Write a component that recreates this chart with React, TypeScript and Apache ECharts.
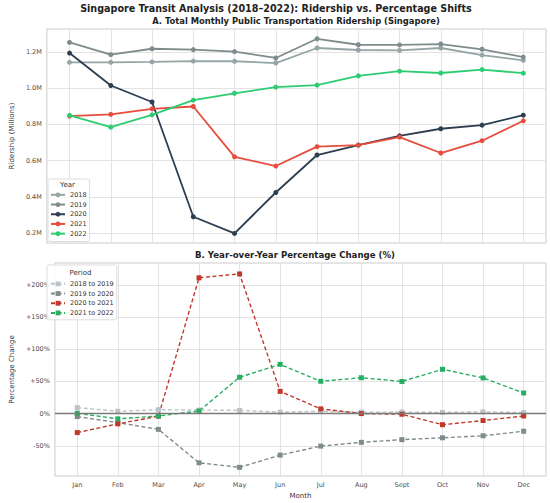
import React, { useEffect, useRef } from "react";
import * as echarts from "echarts";

const months = ["Jan", "Feb", "Mar", "Apr", "May", "Jun", "Jul", "Aug", "Sept", "Oct", "Nov", "Dec"];
const monthIdx = [0, 1, 2, 3, 4, 5, 6, 7, 8, 9, 10, 11];

const years = ["2018", "2019", "2020", "2021", "2022"];
const r2018 = [1.143, 1.143, 1.145, 1.15, 1.149, 1.139, 1.222, 1.211, 1.209, 1.222, 1.183, 1.154];
const r2019 = [1.253, 1.185, 1.218, 1.213, 1.202, 1.167, 1.273, 1.24, 1.239, 1.244, 1.215, 1.172];
const r2020 = [1.194, 1.015, 0.924, 0.29, 0.198, 0.424, 0.631, 0.686, 0.737, 0.776, 0.796, 0.851];
const r2021 = [0.846, 0.855, 0.886, 0.899, 0.621, 0.57, 0.677, 0.686, 0.73, 0.642, 0.71, 0.82];
const r2022 = [0.85, 0.785, 0.853, 0.934, 0.972, 1.006, 1.017, 1.068, 1.094, 1.084, 1.103, 1.083];
const yearColors = ["#95a5a6", "#7f8c8d", "#2c3e50", "#e74c3c", "#2ecc71"];

const periods = ["2018 to 2019", "2019 to 2020", "2020 to 2021", "2021 to 2022"];
const p1819 = [9.3, 3.6, 6.0, 5.5, 5.0, 2.2, 3.6, 2.2, 2.4, 1.8, 2.7, 1.6];
const p1920 = [-4.7, -14.0, -24.5, -76.5, -83.5, -64.5, -50.5, -44.7, -40.5, -37.6, -34.5, -27.4];
const p2021 = [-29.5, -16.0, -4.0, 211, 217, 34.5, 7.3, 0.0, -1.0, -17.3, -10.8, -3.7];
const p2122 = [0.5, -8.2, -3.7, 3.9, 56.5, 76.5, 50.2, 55.7, 49.9, 68.8, 55.4, 32.0];
const periodColors = ["#bdc3c7", "#7f8c8d", "#c0392b", "#27ae60"];

const ridershipTicks = [0.2, 0.4, 0.6, 0.8, 1.0, 1.2];
const pctTicks = [-50, 0, 50, 100, 150, 200];

const FONT = "DejaVu Sans";
const TICK_FONT = 6.5;
const LEGEND_FONT = 6.5;

function toPts(arr: number[]) {
  return arr.map((v, i) => [i, v]);
}

export default function App() {
  const ref = useRef<HTMLDivElement>(null);
  useEffect(() => {
    if (!ref.current) return;
    const chart = echarts.init(ref.current, undefined, { renderer: "svg" });
    const ridership = [r2018, r2019, r2020, r2021, r2022];
    const pcts = [p1819, p1920, p2021, p2122];

    const gridLine = { show: true, lineStyle: { color: "#e3e3e3", width: 1 } };
    const tickLabel = { color: "#4d4d4d", fontSize: TICK_FONT, fontFamily: FONT };
    const nameStyle = { color: "#333333", fontSize: 7, fontFamily: FONT };

    const xBase = (gridIndex: number, showLabels: boolean) => ({
      type: "value" as const,
      gridIndex,
      min: -0.55,
      max: 11.55,
      axisLine: { show: false },
      axisTick: { show: false, customValues: monthIdx },
      axisLabel: {
        show: showLabels,
        customValues: monthIdx,
        formatter: (v: number) => months[Math.round(v)] ?? "",
        ...tickLabel,
        margin: 5.5,
      },
      splitLine: gridLine,
    });

    const legendBase = {
      orient: "vertical",
      itemGap: 0,
      itemWidth: 14,
      itemHeight: 6,
      backgroundColor: "rgba(255,255,255,0.85)",
      borderColor: "#dddddd",
      borderWidth: 1,
      borderRadius: 2,
      z: 5,
    };

    const option: any = {
      animation: false,
      backgroundColor: "#ffffff",
      textStyle: { fontFamily: FONT },
      grid: [
        { left: 44, top: 29, right: 4, height: 214, show: true, borderColor: "#cccccc", borderWidth: 1, backgroundColor: "transparent" },
        { left: 44, top: 263, right: 4, height: 213, show: true, borderColor: "#cccccc", borderWidth: 1, backgroundColor: "transparent" },
      ],
      xAxis: [
        xBase(0, false),
        {
          ...xBase(1, true),
          name: "Month",
          nameLocation: "middle",
          nameGap: 16,
          nameTextStyle: nameStyle,
        },
      ],
      yAxis: [
        {
          type: "value",
          gridIndex: 0,
          min: 0.145,
          max: 1.327,
          name: "Ridership (Millions)",
          nameLocation: "middle",
          nameGap: 31,
          nameTextStyle: nameStyle,
          axisLine: { show: false },
          axisTick: { show: false, customValues: ridershipTicks },
          axisLabel: {
            customValues: ridershipTicks,
            formatter: (v: number) => v.toFixed(1) + "M",
            ...tickLabel,
            margin: 5,
          },
          splitLine: gridLine,
        },
        {
          type: "value",
          gridIndex: 1,
          min: -97,
          max: 234,
          name: "Percentage Change",
          nameLocation: "middle",
          nameGap: 31,
          nameTextStyle: nameStyle,
          axisLine: { show: false },
          axisTick: { show: false, customValues: pctTicks },
          axisLabel: {
            customValues: pctTicks,
            formatter: (v: number) => (v > 0 ? "+" + v + "%" : v + "%"),
            ...tickLabel,
            margin: 5,
          },
          splitLine: gridLine,
        },
      ],
      legend: [
        {
          ...legendBase,
          data: years,
          left: 48,
          top: 179,
          padding: [11, 3, 3, 2],
          textStyle: { color: "#333333", fontSize: LEGEND_FONT, fontFamily: FONT, lineHeight: 9.7 },
        },
        {
          ...legendBase,
          data: periods,
          left: 47,
          top: 265,
          padding: [14, 3, 2, 3],
          textStyle: { color: "#333333", fontSize: LEGEND_FONT, fontFamily: FONT, lineHeight: 9.7 },
        },
      ],
      graphic: [
        {
          type: "text",
          x: 276,
          y: 8,
          style: {
            text: "Singapore Transit Analysis (2018\u20132022): Ridership vs. Percentage Shifts",
            fontSize: 9.6,
            fontWeight: "bold",
            fill: "#222222",
            fontFamily: FONT,
            textAlign: "center",
            textVerticalAlign: "middle",
          },
        },
        {
          type: "text",
          x: 296,
          y: 21,
          style: {
            text: "A. Total Monthly Public Transportation Ridership (Singapore)",
            fontSize: 8.4,
            fontWeight: "bold",
            fill: "#222222",
            fontFamily: FONT,
            textAlign: "center",
            textVerticalAlign: "middle",
          },
        },
        {
          type: "text",
          x: 295,
          y: 255,
          style: {
            text: "B. Year-over-Year Percentage Change (%)",
            fontSize: 8.6,
            fontWeight: "bold",
            fill: "#222222",
            fontFamily: FONT,
            textAlign: "center",
            textVerticalAlign: "middle",
          },
        },
        {
          type: "text",
          z: 10,
          x: 67.5,
          y: 185,
          style: { text: "Year", fontSize: 7, fill: "#333333", fontFamily: FONT, textAlign: "center", textVerticalAlign: "middle" },
        },
        {
          type: "text",
          z: 10,
          x: 80.5,
          y: 273,
          style: { text: "Period", fontSize: 7, fill: "#333333", fontFamily: FONT, textAlign: "center", textVerticalAlign: "middle" },
        },
      ],
      series: [
        ...years.map((y, k) => ({
          name: y,
          type: "line",
          xAxisIndex: 0,
          yAxisIndex: 0,
          data: toPts(ridership[k]),
          symbol: "circle",
          symbolSize: 5,
          color: yearColors[k],
          lineStyle: { width: 1.8, color: yearColors[k] },
          itemStyle: { color: yearColors[k] },
          z: 2,
        })),
        ...periods.map((p, k) => ({
          name: p,
          type: "line",
          xAxisIndex: 1,
          yAxisIndex: 1,
          data: toPts(pcts[k]),
          symbol: "rect",
          symbolSize: 5,
          color: periodColors[k],
          lineStyle: { width: 1.4, color: periodColors[k], type: [4, 2.5] },
          itemStyle: { color: periodColors[k] },
          z: 2,
          markLine:
            k === 0
              ? {
                  silent: true,
                  symbol: "none",
                  label: { show: false },
                  lineStyle: { color: "#7a7a7a", width: 1.3, type: "solid" },
                  data: [{ yAxis: 0 }],
                }
              : undefined,
        })),
      ],
    };
    chart.setOption(option);
    return () => chart.dispose();
  }, []);
  return <div ref={ref} style={{ position: "fixed", left: 0, top: 0, width: 550, height: 503 }} />;
}
